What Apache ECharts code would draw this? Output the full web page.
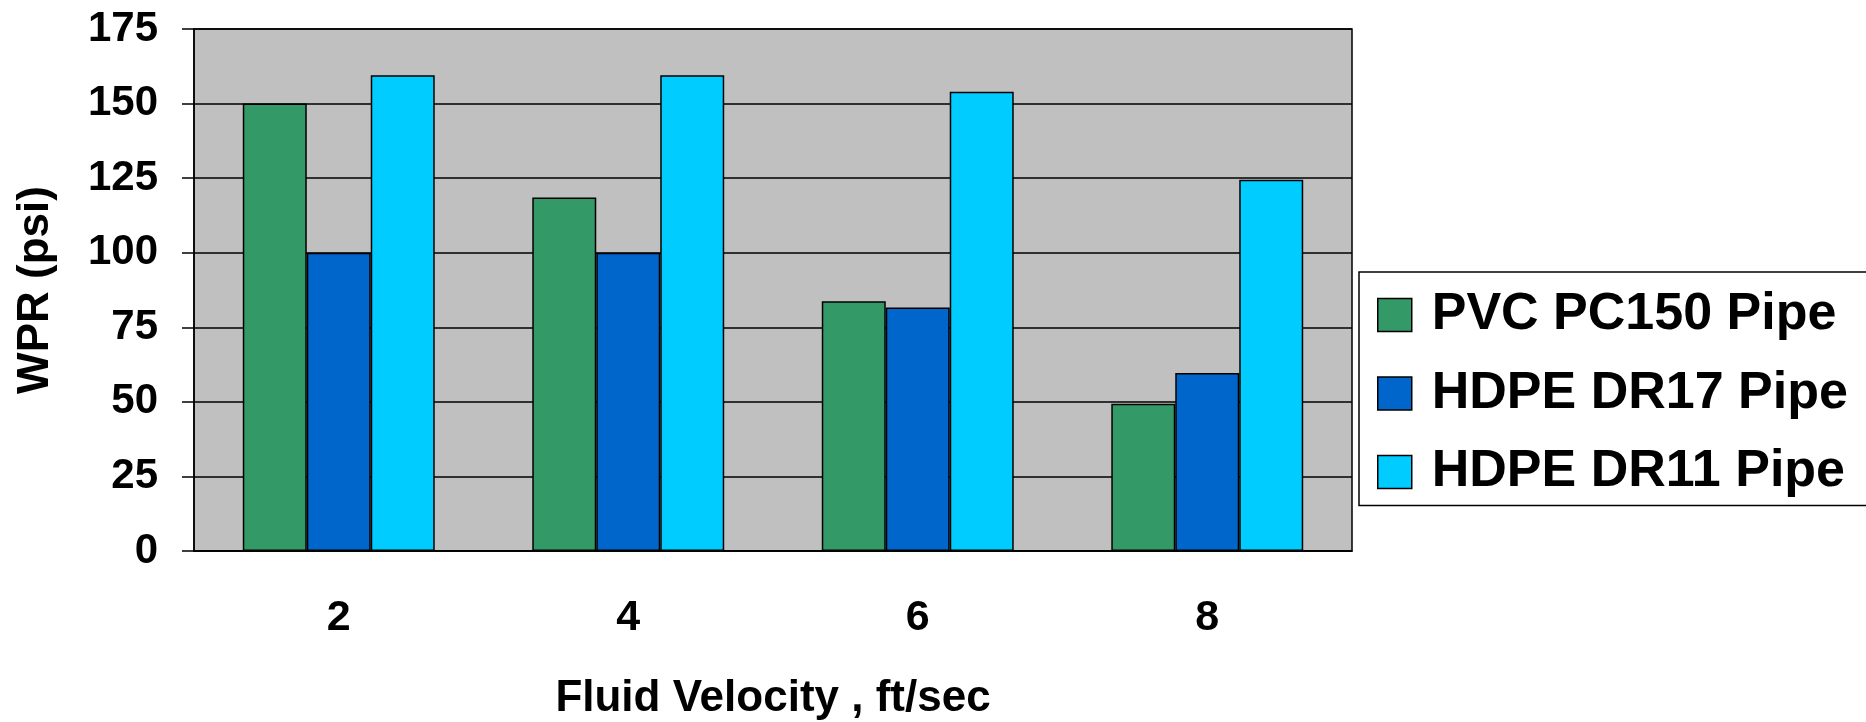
<!DOCTYPE html>
<html>
<head>
<meta charset="utf-8">
<title>WPR vs Fluid Velocity</title>
<script src="https://cdn.jsdelivr.net/npm/echarts@6/dist/echarts.min.js"></script>
<style>
  html, body { margin: 0; padding: 0; background: #fff; }
  #chart { width: 1866px; height: 722px; }
</style>
</head>
<body>
<div id="chart"></div>
<script>
// data
var velocities = ['2', '4', '6', '8'];
var pvcPc150 = [150, 118.5, 83.7, 49.4];
var hdpeDr17 = [100, 100, 81.6, 59.7];
var hdpeDr11 = [159.5, 159.5, 154, 124.5];
var seriesNames = ['PVC PC150 Pipe', 'HDPE DR17 Pipe', 'HDPE DR11 Pipe'];

var boldFont = '"Liberation Sans", Arial, sans-serif';

var myChart = echarts.init(document.getElementById('chart'));

function barSeries(name, data, color) {
  return {
    name: name,
    type: 'bar',
    data: data,
    barGap: '0%',
    barCategoryGap: '33.7%',
    itemStyle: {
      color: color,
      borderColor: '#000',
      borderWidth: 1.5
    }
  };
}

var option = {
  animation: false,
  backgroundColor: '#fff',
  grid: {
    left: 194,
    top: 29,
    right: 514,
    bottom: 171,
    show: true,
    backgroundColor: '#c0c0c0',
    borderColor: '#000',
    borderWidth: 1.5,
    containLabel: false,
    outerBoundsMode: 'none'
  },
  legend: {
    orient: 'vertical',
    left: 1359,
    top: 272,
    data: seriesNames,
    icon: 'rect',
    itemWidth: 34,
    itemHeight: 33,
    itemGap: 26.5,
    padding: [17, 120, 7.5, 18],
    borderColor: '#000',
    borderWidth: 1.5,
    backgroundColor: '#fff',
    itemStyle: {
      borderColor: '#000',
      borderWidth: 1.5
    },
    textStyle: {
      fontFamily: boldFont,
      fontWeight: 'bold',
      fontSize: 52,
      lineHeight: 52,
      color: '#000',
      padding: [0, 0, 0, 15]
    }
  },
  xAxis: {
    type: 'category',
    data: velocities,
    boundaryGap: true,
    name: 'Fluid Velocity , ft/sec',
    nameLocation: 'middle',
    nameGap: 126,
    nameTextStyle: {
      fontFamily: boldFont,
      fontWeight: 'bold',
      fontSize: 44,
      color: '#000'
    },
    axisLine: { lineStyle: { color: '#000', width: 1.5 } },
    axisTick: {
      alignWithLabel: false,
      length: 14,
      lineStyle: { color: '#000', width: 1.5 }
    },
    axisLabel: {
      margin: 46,
      fontFamily: boldFont,
      fontWeight: 'bold',
      fontSize: 43,
      color: '#000'
    }
  },
  yAxis: {
    type: 'value',
    min: 0,
    max: 175,
    interval: 25,
    name: 'WPR (psi)',
    nameLocation: 'middle',
    nameGap: 136,
    nameTextStyle: {
      fontFamily: boldFont,
      fontWeight: 'bold',
      fontSize: 44,
      color: '#000'
    },
    axisLine: { show: true, lineStyle: { color: '#000', width: 1.5 } },
    axisTick: {
      show: true,
      length: 12,
      lineStyle: { color: '#000', width: 1.5 }
    },
    axisLabel: {
      margin: 36,
      fontFamily: boldFont,
      fontWeight: 'bold',
      fontSize: 42,
      color: '#000'
    },
    splitLine: { lineStyle: { color: '#000', width: 1.5 } }
  },
  series: [
    barSeries(seriesNames[0], pvcPc150, '#339966'),
    barSeries(seriesNames[1], hdpeDr17, '#0066cc'),
    barSeries(seriesNames[2], hdpeDr11, '#00ccff')
  ]
};

myChart.setOption(option);
</script>
</body>
</html>
